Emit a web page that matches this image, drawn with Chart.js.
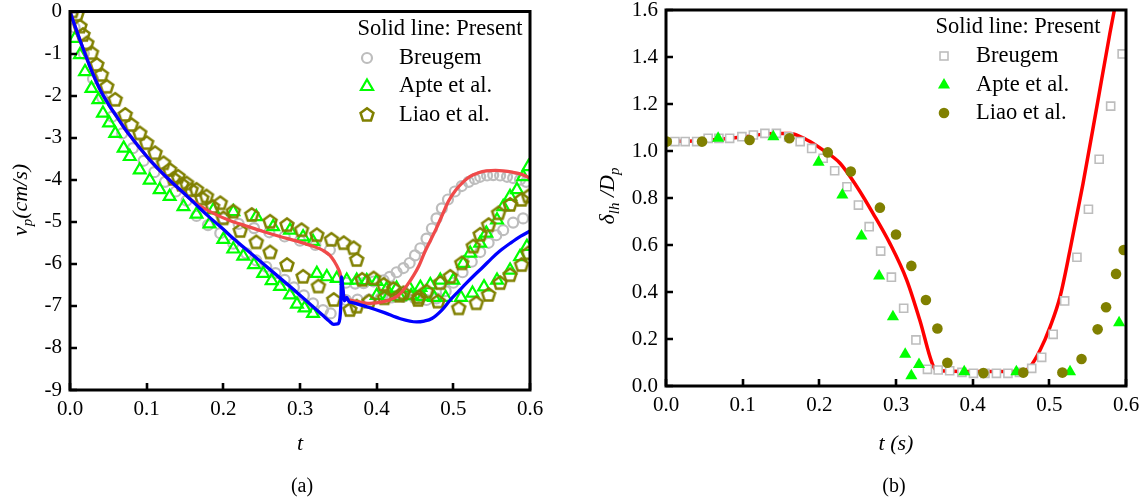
<!DOCTYPE html>
<html><head><meta charset="utf-8">
<script src="https://cdn.jsdelivr.net/npm/chart.js@4/dist/chart.umd.min.js"></script>
<style>
html,body{margin:0;padding:0;background:#fff;width:1148px;height:501px;overflow:hidden}
.box{position:absolute;top:0;width:574px;height:501px}
</style></head><body>
<div class="box" style="left:0"><canvas id="ca" width="574" height="501"></canvas></div>
<div class="box" style="left:574px"><canvas id="cb" width="574" height="501"></canvas></div>
<script>
// ---------------- shared ticks / labels ----------------
const xTicks = [0, 0.1, 0.2, 0.3, 0.4, 0.5, 0.6];
const xTickLabels = ['0.0', '0.1', '0.2', '0.3', '0.4', '0.5', '0.6'];
const yTicksA = [-9, -8, -7, -6, -5, -4, -3, -2, -1, 0];
const yTickLabelsA = ['-9', '-8', '-7', '-6', '-5', '-4', '-3', '-2', '-1', '0'];
const yTicksB = [0, 0.2, 0.4, 0.6, 0.8, 1.0, 1.2, 1.4, 1.6];
const yTickLabelsB = ['0.0', '0.2', '0.4', '0.6', '0.8', '1.0', '1.2', '1.4', '1.6'];
const legendTitle = 'Solid line: Present';
const legendLabels = ['Breugem', 'Apte et al.', 'Liao et al.'];

// ---------------- panel (a): particle velocity ----------------
const tBlue = [0,0.005,0.013,0.026,0.039,0.05,0.061,0.072,0.083,0.094,0.104,0.115,0.126,0.137,0.148,0.159,0.170,0.180,0.190,0.200,0.213,0.230,0.252,0.274,0.296,0.317,0.330,0.338,0.344,0.349,0.352,0.3535,0.354,0.356,0.358,0.361,0.364,0.368,0.387,0.410,0.430,0.452,0.462,0.472,0.485,0.496,0.507,0.517,0.528,0.539,0.550,0.561,0.575,0.588,0.600];
const vBlue = [0,-0.27,-0.68,-1.31,-1.85,-2.2,-2.50,-2.80,-3.06,-3.31,-3.53,-3.74,-3.94,-4.13,-4.31,-4.50,-4.69,-4.86,-5.02,-5.18,-5.40,-5.66,-6.00,-6.34,-6.68,-7.02,-7.23,-7.36,-7.44,-7.43,-7.30,-6.80,-6.31,-6.60,-6.88,-6.80,-6.90,-6.92,-7.02,-7.16,-7.30,-7.38,-7.36,-7.30,-7.10,-6.86,-6.65,-6.46,-6.26,-6.07,-5.87,-5.69,-5.50,-5.34,-5.22];
const tRed = [0,0.005,0.013,0.026,0.039,0.05,0.061,0.072,0.083,0.094,0.104,0.115,0.126,0.137,0.148,0.159,0.170,0.187,0.21,0.230,0.252,0.274,0.296,0.317,0.330,0.339,0.345,0.350,0.353,0.355,0.358,0.365,0.375,0.391,0.409,0.422,0.430,0.440,0.448,0.455,0.462,0.470,0.478,0.486,0.494,0.503,0.513,0.522,0.532,0.543,0.555,0.565,0.577,0.587,0.595,0.6];
const vRed = [0,-0.27,-0.68,-1.31,-1.85,-2.2,-2.50,-2.80,-3.06,-3.31,-3.53,-3.74,-3.94,-4.13,-4.31,-4.49,-4.63,-4.80,-4.98,-5.10,-5.23,-5.35,-5.46,-5.58,-5.68,-5.80,-5.95,-6.12,-6.28,-6.55,-6.80,-6.86,-6.90,-6.94,-6.90,-6.82,-6.72,-6.50,-6.28,-6.05,-5.75,-5.45,-5.15,-4.82,-4.50,-4.25,-4.05,-3.92,-3.84,-3.79,-3.78,-3.79,-3.82,-3.86,-3.92,-3.97];
const breugemT = [0.006,0.018,0.03,0.042,0.055,0.068,0.082,0.096,0.11,0.124,0.138,0.152,0.165,0.180,0.196,0.213,0.230,0.243,0.256,0.268,0.280,0.292,0.305,0.317,0.330,0.340,
  0.360,0.375,0.390,0.405,0.420,0.435,0.450,0.465,0.478,0.490,0.500,0.512,0.524,0.535,0.546,0.556,0.565,0.578,0.591,
  0.200,0.220,0.240,0.260,0.280,0.300,0.320,0.339,
  0.360,0.372,0.383,0.396,0.409,0.417,0.426,0.435,0.443,0.450,0.457,0.465,0.472,0.478,0.485,0.493,0.502,0.511,0.520,0.528,0.535,0.544,0.552,0.561,0.570,0.578,0.587,0.595];
const breugemV = [-0.38,-1.0,-1.6,-2.05,-2.5,-2.9,-3.25,-3.55,-3.82,-4.05,-4.28,-4.5,-4.86,-5.08,-5.27,-5.52,-5.75,-5.92,-6.07,-6.22,-6.38,-6.56,-6.75,-6.94,-7.10,-7.18,
  -6.86,-6.85,-6.85,-6.82,-6.80,-6.78,-6.82,-6.86,-6.82,-6.65,-6.45,-6.20,-5.95,-5.72,-5.50,-5.32,-5.20,-5.02,-4.92,
  -4.92,-5.05,-5.15,-5.25,-5.35,-5.45,-5.55,-5.67,
  -6.45,-6.47,-6.46,-6.42,-6.39,-6.31,-6.20,-6.10,-5.98,-5.80,-5.63,-5.40,-5.16,-4.92,-4.68,-4.47,-4.28,-4.15,-4.05,-3.98,-3.93,-3.90,-3.89,-3.90,-3.93,-3.96,-4.00,-4.05];
const apteT = [0.0065,0.013,0.0196,0.028,0.037,0.043,0.051,0.059,0.070,0.078,0.091,0.104,0.117,0.130,0.148,0.165,0.182,0.200,0.213,0.226,0.240,0.252,0.263,0.274,0.287,0.296,0.306,0.317,
  0.187,0.213,0.243,0.265,0.287,0.304,0.317,
  0.322,0.335,0.348,0.361,0.374,0.387,0.400,0.413,0.426,0.443,0.457,0.470,0.483,
  0.500,0.513,0.522,0.535,0.543,0.557,0.565,0.574,0.583,0.591,0.598,
  0.40,0.415,0.43,0.445,0.46,0.475,0.49,0.51,0.525,0.54,0.557,0.574,0.587,0.596];
const apteV = [-0.64,-1.03,-1.43,-1.83,-2.10,-2.42,-2.65,-2.90,-3.25,-3.45,-3.77,-4.01,-4.24,-4.40,-4.64,-4.82,-5.05,-5.42,-5.65,-5.82,-6.02,-6.23,-6.40,-6.54,-6.74,-6.96,-7.05,-7.18,
  -4.72,-4.76,-4.88,-5.12,-5.20,-5.36,-5.47,
  -6.23,-6.31,-6.35,-6.39,-6.39,-6.40,-6.42,-6.60,-6.58,-6.58,-6.56,-6.50,-6.39,
  -6.39,-5.99,-5.75,-5.51,-5.27,-4.96,-4.64,-4.40,-4.24,-3.93,-3.69,
  -6.75,-6.78,-6.78,-6.76,-6.78,-6.80,-6.80,-6.80,-6.70,-6.55,-6.39,-6.15,-5.83,-5.59];
const liaoT = [0.003,0.009,0.013,0.017,0.022,0.028,0.035,0.041,0.048,0.059,0.072,0.080,0.091,0.100,0.111,0.122,0.130,0.141,0.152,0.165,0.178,0.196,0.213,0.237,0.261,0.283,0.302,0.322,0.341,0.357,0.370,0.374,
  0.135,0.146,0.158,0.172,0.186,0.200,0.222,0.243,0.261,0.283,0.304,0.324,0.344,0.365,0.374,
  0.381,0.396,0.409,0.422,0.435,0.454,0.465,0.483,0.496,0.511,0.526,0.535,0.546,0.559,0.574,0.589,0.598,
  0.39,0.41,0.43,0.455,0.480,0.507,0.530,0.546,0.561,0.574,0.589,0.598];
const liaoV = [0.0,-0.08,-0.36,-0.56,-0.76,-0.99,-1.27,-1.51,-1.79,-2.10,-2.46,-2.70,-2.90,-3.13,-3.37,-3.61,-3.77,-3.93,-4.09,-4.24,-4.40,-4.56,-4.76,-4.84,-5.00,-5.08,-5.20,-5.32,-5.43,-5.51,-5.63,-5.91,
  -3.98,-4.12,-4.25,-4.45,-4.65,-4.92,-5.22,-5.49,-5.73,-6.03,-6.31,-6.54,-6.86,-7.10,-7.02,
  -6.38,-6.35,-6.50,-6.60,-6.70,-6.86,-6.66,-6.46,-6.31,-5.99,-5.59,-5.31,-5.08,-4.80,-4.60,-4.48,-4.40,
  -6.90,-6.82,-6.76,-6.80,-6.90,-7.06,-6.94,-6.74,-6.46,-6.27,-6.03,-5.75];

// ---------------- panel (b): gap thickness ----------------
const tPresentB = [0,0.05,0.1,0.14,0.162,0.184,0.205,0.227,0.249,0.270,0.292,0.314,0.331,0.349,0.356,0.40,0.45,0.468,0.475,0.488,0.501,0.514,0.527,0.544,0.562,0.579,0.586];
const dPresentB = [1.04,1.045,1.06,1.075,1.075,1.047,1.004,0.948,0.848,0.735,0.607,0.451,0.281,0.082,0.065,0.062,0.062,0.065,0.082,0.153,0.252,0.380,0.579,0.862,1.189,1.501,1.62];
const breugemTB = [0.0117,0.025,0.04,0.055,0.069,0.083,0.099,0.114,0.129,0.144,0.16,0.175,0.190,0.205,0.220,0.236,0.251,0.265,0.280,0.294,0.310,0.326,0.341,0.355,0.370,0.386,0.401,0.416,0.431,0.446,0.461,0.477,0.490,0.505,0.520,0.536,0.551,0.565,0.580,0.595];
const breugemDB = [1.04,1.04,1.04,1.054,1.054,1.054,1.061,1.068,1.075,1.075,1.06,1.04,1.011,0.969,0.916,0.848,0.770,0.678,0.574,0.463,0.331,0.196,0.071,0.068,0.065,0.058,0.054,0.054,0.054,0.054,0.058,0.075,0.122,0.220,0.362,0.548,0.752,0.965,1.191,1.413];
const apteTB = [0.068,0.14,0.199,0.230,0.255,0.278,0.296,0.312,0.320,0.330,0.389,0.457,0.527,0.591];
const apteDB = [1.054,1.061,0.952,0.813,0.638,0.468,0.295,0.135,0.044,0.092,0.061,0.061,0.061,0.269];
const liaoTB = [0.001,0.047,0.109,0.161,0.211,0.241,0.279,0.300,0.320,0.339,0.354,0.367,0.414,0.466,0.517,0.542,0.563,0.574,0.587,0.597];
const liaoDB = [1.04,1.04,1.047,1.054,0.994,0.913,0.759,0.645,0.511,0.366,0.245,0.099,0.055,0.057,0.057,0.115,0.241,0.335,0.477,0.579];

// ---------------- helpers ----------------
const FONT = "'Liberation Serif', 'Times New Roman', serif";
Chart.defaults.font.family = FONT;
Chart.defaults.font.size = 21;
Chart.defaults.color = '#000';
const zip = (xs, ys) => xs.map((x, i) => ({ x: x, y: ys[i] }));
const GREY = '#bdbdbd', GREEN = '#00ff00', OLIVE = '#808000';

function pentagon(color, r, lw, fill) {
  const s = Math.ceil(2 * r + lw + 4) + 1;
  const c = document.createElement('canvas'); c.width = s; c.height = s;
  const g = c.getContext('2d');
  g.beginPath();
  for (let k = 0; k < 5; k++) {
    const a = -Math.PI / 2 + k * 2 * Math.PI / 5;
    const x = s / 2 + r * Math.cos(a), y = s / 2 + r * Math.sin(a);
    if (k) g.lineTo(x, y); else g.moveTo(x, y);
  }
  g.closePath();
  if (fill) { g.fillStyle = fill; g.fill(); }
  g.strokeStyle = color; g.lineWidth = lw; g.stroke();
  return c;
}
const pent = pentagon(OLIVE, 6.8, 2.5);

function fontStr(p) { return (p.i ? 'italic ' : '') + p.s + 'px ' + FONT; }
function drawRich(ctx, parts, cx, cy, rot) {
  ctx.save();
  ctx.translate(cx, cy);
  if (rot) ctx.rotate(rot);
  let w = 0;
  for (const p of parts) { ctx.font = fontStr(p); w += ctx.measureText(p.t).width; }
  let x = -w / 2;
  ctx.fillStyle = '#000'; ctx.textAlign = 'left'; ctx.textBaseline = 'alphabetic';
  for (const p of parts) {
    ctx.font = fontStr(p);
    ctx.fillText(p.t, x, 7 + (p.dy || 0));
    x += ctx.measureText(p.t).width;
  }
  ctx.restore();
}
function marker(ctx, kind, x, y) {
  ctx.save();
  switch (kind) {
    case 'circle':
      ctx.beginPath(); ctx.arc(x, y, 5, 0, Math.PI * 2);
      ctx.strokeStyle = GREY; ctx.lineWidth = 2.2; ctx.stroke(); break;
    case 'triangle':
    case 'triFill': {
      const r = 7; ctx.beginPath();
      for (let k = 0; k < 3; k++) {
        const a = -Math.PI / 2 + k * 2 * Math.PI / 3;
        const px = x + r * Math.cos(a), py = y + r * Math.sin(a);
        if (k) ctx.lineTo(px, py); else ctx.moveTo(px, py);
      }
      ctx.closePath();
      if (kind === 'triFill') { ctx.fillStyle = GREEN; ctx.fill(); }
      else { ctx.strokeStyle = GREEN; ctx.lineWidth = 2.2; ctx.stroke(); }
      break;
    }
    case 'pent': ctx.drawImage(pent, Math.round(x - pent.width / 2), Math.round(y - pent.height / 2)); break;
    case 'square':
      ctx.fillStyle = '#fff'; ctx.fillRect(x - 4, y - 4, 8, 8);
      ctx.strokeStyle = GREY; ctx.lineWidth = 1.6; ctx.strokeRect(x - 4, y - 4, 8, 8); break;
    case 'dot':
      ctx.beginPath(); ctx.arc(x, y, 5.3, 0, Math.PI * 2); ctx.fillStyle = OLIVE; ctx.fill(); break;
  }
  ctx.restore();
}

const decor = {
  id: 'decor',
  afterDraw(chart, args, o) {
    const ctx = chart.ctx, a = chart.chartArea;
    const xs = chart.scales.x, ys = chart.scales.y;
    ctx.save();
    // inward ticks
    ctx.strokeStyle = '#000'; ctx.lineWidth = 2.6;
    ctx.beginPath();
    for (const v of o.xt) { const px = Math.round(xs.getPixelForValue(v)); ctx.moveTo(px, a.bottom); ctx.lineTo(px, a.bottom - 7); }
    for (const v of o.yt) { const py = Math.round(ys.getPixelForValue(v)); ctx.moveTo(a.left, py); ctx.lineTo(a.left + 7, py); }
    ctx.stroke();
    // frame
    ctx.lineWidth = 3;
    ctx.strokeRect(a.left, a.top, a.right - a.left, a.bottom - a.top);
    // legend
    ctx.fillStyle = '#000'; ctx.textBaseline = 'middle'; ctx.textAlign = 'left';
    ctx.font = '22.5px ' + FONT;
    ctx.fillText(legendTitle, o.lg.x0, o.lg.y0);
    for (let i = 0; i < 3; i++) {
      const y = o.lg.rows[i];
      marker(ctx, o.lg.kinds[i], o.lg.mx, y);
      ctx.fillStyle = '#000'; ctx.font = '22.5px ' + FONT; ctx.textBaseline = 'middle';
      ctx.fillText(legendLabels[i], o.lg.tx, y);
    }
    // axis titles and caption
    drawRich(ctx, o.ytitle, o.yt_c[0], o.yt_c[1], -Math.PI / 2);
    drawRich(ctx, o.xtitle, o.xt_c[0], o.xt_c[1], 0);
    drawRich(ctx, [{ t: o.caption, s: 20 }], o.cap_c[0], o.cap_c[1], 0);
    ctx.restore();
  }
};

function scales(yMin, yMax, yTicks, yLabels, yWidth, xHeight) {
  const tickFont = { family: FONT, size: 21, lineHeight: 1.2 };
  const fit = (w, h) => (s) => {
    if (w !== null) s.width = w;
    if (h !== null) s.height = h;
    s.paddingTop = 0; s.paddingBottom = 0; s.paddingLeft = 0; s.paddingRight = 0;
  };
  return {
    x: {
      type: 'linear', min: 0, max: 0.6,
      grid: { display: false, drawTicks: false }, border: { display: false },
      afterBuildTicks: (s) => { s.ticks = xTicks.map(v => ({ value: v })); },
      afterFit: fit(null, xHeight),
      ticks: { font: tickFont, color: '#000', padding: 7, maxRotation: 0, autoSkip: false,
        callback: (v, i) => xTickLabels[i] }
    },
    y: {
      type: 'linear', min: yMin, max: yMax,
      grid: { display: false, drawTicks: false }, border: { display: false },
      afterBuildTicks: (s) => { s.ticks = yTicks.map(v => ({ value: v })); },
      afterFit: fit(yWidth, null),
      ticks: { font: tickFont, color: '#000', padding: 8, autoSkip: false,
        callback: (v, i) => yLabels[i] }
    }
  };
}

// ---------------- chart (a) ----------------
new Chart(document.getElementById('ca'), {
  type: 'scatter',
  data: {
    datasets: [
      { label: 'Present 1', data: zip(tBlue, vBlue), showLine: true, borderColor: '#0000ff', borderWidth: 3.3, pointRadius: 0, cubicInterpolationMode: 'monotone', order: 0 },
      { label: 'Present 2', data: zip(tRed, vRed), showLine: true, borderColor: '#f04a4a', borderWidth: 3.3, pointRadius: 0, cubicInterpolationMode: 'monotone', order: 1 },
      { label: legendLabels[2], data: zip(liaoT, liaoV), pointStyle: pent, order: 2 },
      { label: legendLabels[1], data: zip(apteT, apteV), pointStyle: 'triangle', pointRadius: 6.8, pointBorderWidth: 2.2, pointBorderColor: GREEN, pointBackgroundColor: 'rgba(0,0,0,0)', order: 3 },
      { label: legendLabels[0], data: zip(breugemT, breugemV), pointStyle: 'circle', pointRadius: 5, pointBorderWidth: 2.2, pointBorderColor: GREY, pointBackgroundColor: 'rgba(0,0,0,0)', order: 4 }
    ]
  },
  options: {
    responsive: false, animation: false, devicePixelRatio: 1, events: [],
    layout: { autoPadding: false, padding: { left: 0, right: 44, top: 11.5, bottom: 0 } },
    scales: scales(-9, 0, yTicksA, yTickLabelsA, 70, 111),
    plugins: {
      legend: { display: false }, tooltip: { enabled: false },
      decor: {
        xt: xTicks, yt: yTicksA,
        lg: { x0: 357.5, y0: 29, mx: 367, tx: 399, rows: [58, 86.5, 115], kinds: ['circle', 'triangle', 'pent'] },
        ytitle: [{ t: 'v', i: 1, s: 22 }, { t: 'p', i: 1, s: 15, dy: 5 }, { t: '(cm/s)', i: 1, s: 22 }],
        yt_c: [20, 200],
        xtitle: [{ t: 't', i: 1, s: 22 }], xt_c: [300, 443],
        caption: '(a)', cap_c: [302, 485]
      }
    }
  },
  plugins: [decor]
});

// ---------------- chart (b) ----------------
new Chart(document.getElementById('cb'), {
  type: 'scatter',
  data: {
    datasets: [
      { label: legendLabels[2], data: zip(liaoTB, liaoDB), pointStyle: 'circle', pointRadius: 5.3, pointBorderWidth: 0, pointBackgroundColor: OLIVE, order: 0 },
      { label: legendLabels[1], data: zip(apteTB, apteDB), pointStyle: 'triangle', pointRadius: 7, pointBorderWidth: 0, pointBackgroundColor: GREEN, order: 1 },
      { label: legendLabels[0], data: zip(breugemTB, breugemDB), pointStyle: 'rect', pointRadius: 5.7, pointBorderWidth: 1.6, pointBorderColor: GREY, pointBackgroundColor: '#ffffff', order: 2 },
      { label: 'Present', data: zip(tPresentB, dPresentB), showLine: true, borderColor: '#ff0000', borderWidth: 3.5, pointRadius: 0, cubicInterpolationMode: 'monotone', order: 3 }
    ]
  },
  options: {
    responsive: false, animation: false, devicePixelRatio: 1, events: [],
    layout: { autoPadding: false, padding: { left: 0, right: 22, top: 10, bottom: 0 } },
    scales: scales(0, 1.6, yTicksB, yTickLabelsB, 92, 115),
    plugins: {
      legend: { display: false }, tooltip: { enabled: false },
      decor: {
        xt: xTicks, yt: yTicksB,
        lg: { x0: 361.5, y0: 27, mx: 370, tx: 402, rows: [56, 85, 113], kinds: ['square', 'triFill', 'dot'] },
        ytitle: [{ t: 'δ', i: 1, s: 22 }, { t: 'lh', i: 1, s: 15, dy: 5 }, { t: ' /', i: 1, s: 22 }, { t: 'D', i: 1, s: 22 }, { t: 'p', i: 1, s: 15, dy: 5 }],
        yt_c: [33, 196],
        xtitle: [{ t: 't (s)', i: 1, s: 22 }], xt_c: [322, 443],
        caption: '(b)', cap_c: [320, 485]
      }
    }
  },
  plugins: [decor]
});
</script>
</body></html>
